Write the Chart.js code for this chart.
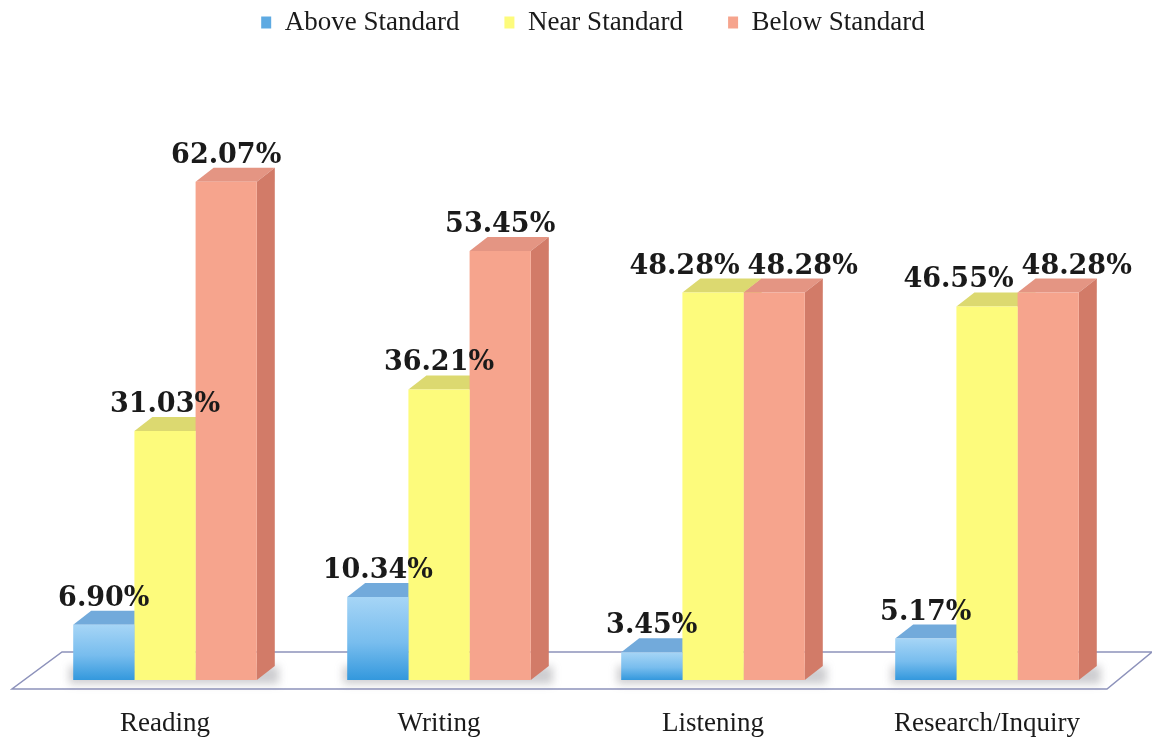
<!DOCTYPE html>
<html>
<head>
<meta charset="utf-8">
<script src="https://cdn.jsdelivr.net/npm/chart.js@4.4.0/dist/chart.umd.min.js"></script>
<style>
  html, body { margin: 0; padding: 0; background: #fff; }
  #wrap { width: 1152px; height: 742px; }
</style>
</head>
<body>
<div id="wrap"><canvas id="chart"></canvas></div>
<script>
const categories = ['Reading', 'Writing', 'Listening', 'Research/Inquiry'];
const aboveStandard = [6.90, 10.34, 3.45, 5.17];
const nearStandard = [31.03, 36.21, 48.28, 46.55];
const belowStandard = [62.07, 53.45, 48.28, 48.28];
const seriesNames = ['Above Standard', 'Near Standard', 'Below Standard'];

// depth of the fake 3D bars
const DX = 18, DY = 14;

const faces = [
    { top: '#72aadb', side: '#3f8ccc', legend: '#5eaae2' },
    { top: '#dcd970', side: '#d8d460', legend: '#fdfb7c' },
    { top: '#e49583', side: '#d27b68', legend: '#f6a48d' }
];

// vertical gradient for the blue front faces, built from the y scale
function blueFront(ctx) {
    const chart = ctx.chart;
    const yScale = chart.scales.y;
    if (!chart.chartArea || !yScale || ctx.raw === undefined) return '#6db8ec';
    const y0 = yScale.getPixelForValue(ctx.raw);
    const y1 = yScale.getPixelForValue(0);
    if (!isFinite(y0) || !isFinite(y1) || y0 === y1) return '#6db8ec';
    const g = chart.ctx.createLinearGradient(0, y0, 0, y1);
    g.addColorStop(0, '#a6d5f6');
    g.addColorStop(0.55, '#78bdee');
    g.addColorStop(1, '#3398dd');
    return g;
}

// legend sits a little right of centre in the original
const legendShift = {
    id: 'legendShift',
    afterLayout(chart) {
        chart.legend.left += 17;
        chart.legend.right += 17;
    }
};

const bars3d = {
    id: 'bars3d',
    beforeDatasetsDraw(chart) {
        const ctx = chart.ctx;
        const area = chart.chartArea;
        const base = chart.scales.y.getPixelForValue(0);

        // floor
        ctx.save();
        ctx.beginPath();
        ctx.moveTo(area.left - 16, base + 9);
        ctx.lineTo(area.right - 17, base + 9);
        ctx.lineTo(area.right + 28, base - 28);
        ctx.lineTo(area.left + 34, base - 28);
        ctx.closePath();
        ctx.fillStyle = '#ffffff';
        ctx.fill();
        ctx.strokeStyle = '#8d92bb';
        ctx.lineWidth = 1.5;
        ctx.stroke();
        ctx.restore();

        // shadow under each group
        const metas = chart.data.datasets.map((d, i) => chart.getDatasetMeta(i));
        categories.forEach((c, j) => {
            const first = metas[0].data[j];
            const last = metas[metas.length - 1].data[j];
            const l = first.x - first.width / 2;
            const r = last.x + last.width / 2 + DX;
            ctx.save();
            ctx.filter = 'blur(4px)';
            ctx.fillStyle = 'rgba(90,90,100,0.3)';
            ctx.fillRect(l - 4, base - DY, r - l + 8, DY + 4);
            ctx.restore();
        });

        // top and side faces, front faces come from Chart.js afterwards
        categories.forEach((c, j) => {
            metas.forEach((meta, i) => {
                const bar = meta.data[j];
                const { x, y, width } = bar.getProps(['x', 'y', 'width'], true);
                const l = x - width / 2, r = x + width / 2;
                ctx.save();
                ctx.beginPath();
                ctx.moveTo(l, y);
                ctx.lineTo(l + DX, y - DY);
                ctx.lineTo(r + DX, y - DY);
                ctx.lineTo(r, y);
                ctx.closePath();
                ctx.fillStyle = faces[i].top;
                ctx.fill();
                ctx.beginPath();
                ctx.moveTo(r, y);
                ctx.lineTo(r + DX, y - DY);
                ctx.lineTo(r + DX, base - DY);
                ctx.lineTo(r, base);
                ctx.closePath();
                ctx.fillStyle = faces[i].side;
                ctx.fill();
                ctx.restore();
            });
        });
    },
    afterDatasetsDraw(chart) {
        const ctx = chart.ctx;
        const metas = chart.data.datasets.map((d, i) => chart.getDatasetMeta(i));
        ctx.save();
        ctx.font = 'bold 27px "DejaVu Serif"';
        ctx.fillStyle = '#1a1a1a';
        ctx.textAlign = 'center';
        ctx.textBaseline = 'alphabetic';
        categories.forEach((c, j) => {
            const labels = metas.map((meta, i) => {
                const bar = meta.data[j];
                const text = chart.data.datasets[i].data[j].toFixed(2) + '%';
                const w = ctx.measureText(text).width;
                return { text, x: bar.x, y: bar.y - DY - 5, w };
            });
            // push overlapping labels apart
            for (let k = 1; k < labels.length; k++) {
                const a = labels[k - 1], b = labels[k];
                if (Math.abs(a.y - b.y) < 22) {
                    const need = (a.w + b.w) / 2 + 8 - (b.x - a.x);
                    if (need > 0) {
                        a.x -= need / 2;
                        b.x += need / 2;
                    }
                }
            }
            labels.forEach(lb => ctx.fillText(lb.text, lb.x, lb.y));
        });
        ctx.restore();
    }
};

new Chart(document.getElementById('chart'), {
    type: 'bar',
    data: {
        labels: categories,
        datasets: [
            { label: seriesNames[0], data: aboveStandard, backgroundColor: blueFront },
            { label: seriesNames[1], data: nearStandard, backgroundColor: '#fdfb7c' },
            { label: seriesNames[2], data: belowStandard, backgroundColor: '#f6a48d' }
        ]
    },
    options: {
        responsive: true,
        maintainAspectRatio: false,
        animation: false,
        // legend padding is also used vertically, so pull it up
        layout: { padding: { left: 28, right: 28, top: -36, bottom: 0 } },
        datasets: {
            bar: { categoryPercentage: 0.67, barPercentage: 1.0, borderWidth: 0 }
        },
        plugins: {
            legend: {
                position: 'top',
                labels: {
                    boxWidth: 10,
                    boxHeight: 12,
                    padding: 45,
                    color: '#1a1a1a',
                    font: { family: '"Liberation Serif"', size: 27 },
                    generateLabels(chart) {
                        const items = Chart.defaults.plugins.legend.labels.generateLabels(chart);
                        items.forEach((it, i) => {
                            it.fillStyle = faces[i].legend;
                            it.strokeStyle = faces[i].legend;
                            it.lineWidth = 0;
                        });
                        return items;
                    }
                }
            },
            tooltip: { enabled: false }
        },
        scales: {
            y: {
                display: false,
                min: 0,
                max: 79
            },
            x: {
                grid: { display: false, drawTicks: false },
                border: { display: false },
                afterFit(scale) {
                    scale.height = 62;
                },
                ticks: {
                    padding: 28,
                    color: '#1a1a1a',
                    font: { family: '"Liberation Serif"', size: 27 }
                }
            }
        }
    },
    plugins: [legendShift, bars3d]
});
</script>
</body>
</html>
